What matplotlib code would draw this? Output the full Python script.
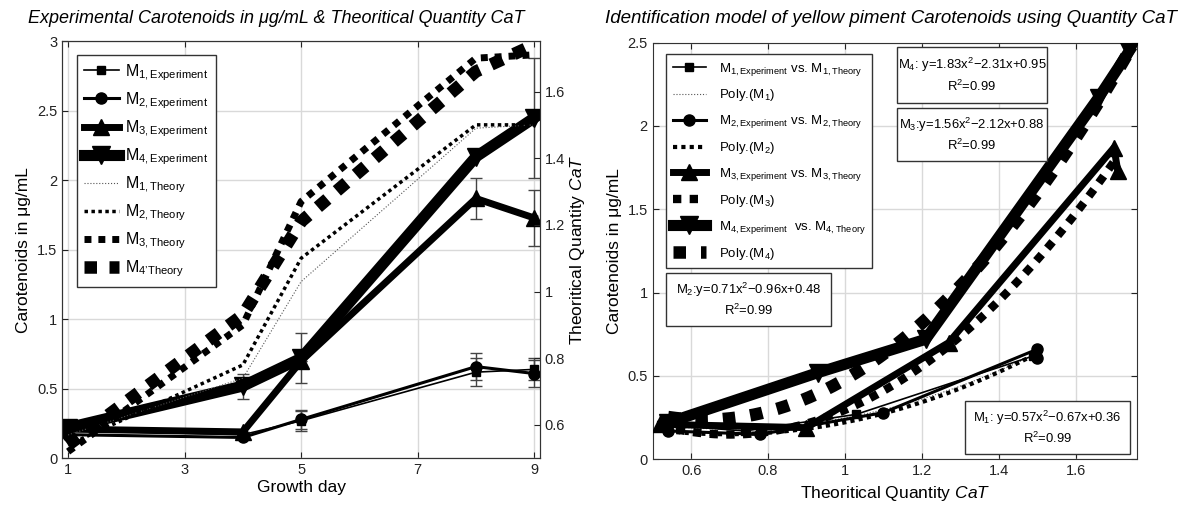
import numpy as np
import matplotlib
matplotlib.use('Agg')
import matplotlib.pyplot as plt
from matplotlib.patches import Rectangle

plt.rcParams['font.family'] = ['Liberation Sans', 'DejaVu Sans']
plt.rcParams['mathtext.fontset'] = 'custom'
plt.rcParams['mathtext.rm'] = 'Liberation Sans'
plt.rcParams['mathtext.it'] = 'Liberation Sans:italic'
plt.rcParams['mathtext.bf'] = 'Liberation Sans:bold'

# growth days
days = [1, 4, 5, 8, 9]

# experimental carotenoids (ug/mL)
m1_exp = [0.20, 0.17, 0.27, 0.62, 0.64]
m2_exp = [0.17, 0.15, 0.28, 0.66, 0.61]
m3_exp = [0.21, 0.19, 0.70, 1.87, 1.73]
m4_exp = [0.22, 0.52, 0.72, 2.17, 2.45]

# error bars
m1_err = [0, 0, 0.07, 0.10, 0.08]
m2_err = [0, 0, 0.07, 0.10, 0.10]
m3_err = [0, 0, 0, 0.15, 0.20]
m4_err = [0, 0.09, 0.18, 0, 0.43]

# theoritical quantity CaT
m1_cat = [0.57, 0.74, 1.03, 1.49, 1.50]
m2_cat = [0.54, 0.78, 1.10, 1.50, 1.50]
m3_cat = [0.52, 0.90, 1.27, 1.70, 1.71]
m4_cat = [0.54, 0.93, 1.21, 1.66, 1.74]

# fitted equations shown on the right chart
eq_m4 = 'M$_4$: y=1.83x$^2$\u22122.31x+0.95\nR$^2$=0.99'
eq_m3 = 'M$_3$:y=1.56x$^2$\u22122.12x+0.88\nR$^2$=0.99'
eq_m2 = 'M$_2$:y=0.71x$^2$\u22120.96x+0.48\nR$^2$=0.99'
eq_m1 = 'M$_1$: y=0.57x$^2$\u22120.67x+0.36\nR$^2$=0.99'

exp_labels = [r'M$_{1,\mathrm{Experiment}}$', r'M$_{2,\mathrm{Experiment}}$',
              r'M$_{3,\mathrm{Experiment}}$', r'M$_{4,\mathrm{Experiment}}$']
th_labels = [r'M$_{1,\mathrm{Theory}}$', r'M$_{2,\mathrm{Theory}}$',
             r'M$_{3,\mathrm{Theory}}$', 'M$_{4\\mathrm{\u2019Theory}}$']
vs_labels = [r'M$_{1,\mathrm{Experiment}}$ vs. M$_{1,\mathrm{Theory}}$',
             r'M$_{2,\mathrm{Experiment}}$ vs. M$_{2,\mathrm{Theory}}$',
             r'M$_{3,\mathrm{Experiment}}$ vs. M$_{3,\mathrm{Theory}}$',
             r'M$_{4,\mathrm{Experiment}}$  vs. M$_{4,\mathrm{Theory}}$']
poly_labels = ['Poly.(M$_1$)', 'Poly.(M$_2$)', 'Poly.(M$_3$)', 'Poly.(M$_4$)']

exps = [m1_exp, m2_exp, m3_exp, m4_exp]
errs = [m1_err, m2_err, m3_err, m4_err]
cats = [m1_cat, m2_cat, m3_cat, m4_cat]

# styles
exp_style = [dict(lw=1.2, marker='s', ms=6),
             dict(lw=2.2, marker='o', ms=8),
             dict(lw=5, marker='^', ms=12),
             dict(lw=8, marker='v', ms=13)]
th_style = [dict(lw=0.8, ls=':', color='#555555'),
            dict(lw=2.5, ls=(0, (1, 1)), color='black'),
            dict(lw=5, ls=(0, (1, 1)), color='black'),
            dict(lw=9, ls=(0, (1, 1)), color='black')]
poly_style = [dict(lw=0.8, ls=':', color='#555555'),
              dict(lw=3, ls=(0, (1, 1)), color='black'),
              dict(lw=6, ls=(0, (1, 1)), color='black'),
              dict(lw=9, ls=(0, (1, 1.2)), color='black')]

spine_c = '#333333'
grid_c = '#d9d9d9'

fig = plt.figure(figsize=(11.86, 5.09), dpi=100)
ax1 = fig.add_axes([0.0525, 0.0996, 0.4028, 0.8189])
ax2 = ax1.twinx()
ax3 = fig.add_axes([0.5503, 0.0976, 0.4084, 0.8187])

# ---- left chart
for i in range(4):
    ax1.errorbar(days, exps[i], yerr=errs[i], fmt='none', ecolor='#444444',
                 elinewidth=1, capsize=4, zorder=3)
    ax1.plot(days, exps[i], color='black', label=exp_labels[i], zorder=4, **exp_style[i])
for i in range(4):
    ax2.plot(days, cats[i], label=th_labels[i], **th_style[i])

ax1.set_xlim(0.9, 9.1)
ax1.set_ylim(0, 3)
ax2.set_ylim(0.5, 1.75)
ax1.set_xticks([1, 3, 5, 7, 9])
ax1.set_yticks([0, 0.5, 1, 1.5, 2, 2.5, 3])
ax1.set_yticklabels(['0', '0.5', '1', '1.5', '2', '2.5', '3'])
ax2.set_yticks([0.6, 0.8, 1.0, 1.2, 1.4, 1.6])
ax2.set_yticklabels(['0.6', '0.8', '1', '1.2', '1.4', '1.6'])
ax1.grid(True, color=grid_c, lw=1)
ax1.set_axisbelow(True)
ax1.tick_params(direction='in', top=True, right=False, labelsize=10.5, length=4, colors='#222222')
ax2.tick_params(direction='in', labelsize=10.5, length=4, colors='#222222')
ax1.set_xlabel('Growth day', fontsize=12.5, labelpad=2)
ax1.set_ylabel('Carotenoids in \u03bcg/mL', fontsize=12.5, labelpad=4)
ax2.set_ylabel(r'Theoritical Quantity $\mathit{CaT}$', fontsize=12.5, labelpad=2)
for ax in (ax1, ax2):
    for s in ax.spines.values():
        s.set_color(spine_c)

h1, l1 = ax1.get_legend_handles_labels()
h2, l2 = ax2.get_legend_handles_labels()
leg1 = ax2.legend(h1 + h2, l1 + l2, loc='upper left', bbox_to_anchor=(0.03, 0.968),
                  fontsize=11.5, labelspacing=0.47, handlelength=2.2, handletextpad=0.4,
                  borderpad=0.45, borderaxespad=0,
                  fancybox=False, framealpha=1, edgecolor=spine_c)
leg1.get_frame().set_linewidth(1)

# ---- right chart
for i in range(4):
    ax3.plot(cats[i], exps[i], color='black', zorder=4, label=vs_labels[i], **exp_style[i])
    coef = np.polyfit(cats[i], exps[i], 2)
    xs = np.linspace(min(cats[i]), max(cats[i]), 60)
    ax3.plot(xs, np.polyval(coef, xs), zorder=3, label=poly_labels[i], **poly_style[i])

ax3.set_xlim(0.5, 1.76)
ax3.set_ylim(0, 2.5)
ax3.set_xticks([0.6, 0.8, 1.0, 1.2, 1.4, 1.6])
ax3.set_xticklabels(['0.6', '0.8', '1', '1.2', '1.4', '1.6'])
ax3.set_yticks([0, 0.5, 1, 1.5, 2, 2.5])
ax3.set_yticklabels(['0', '0.5', '1', '1.5', '2', '2.5'])
ax3.grid(True, color=grid_c, lw=1)
ax3.set_axisbelow(True)
ax3.tick_params(direction='in', top=True, right=True, labelsize=10.5, length=4, colors='#222222')
ax3.set_xlabel(r'Theoritical Quantity $\mathit{CaT}$', fontsize=12.5, labelpad=4)
ax3.set_ylabel('Carotenoids in \u03bcg/mL', fontsize=12.5, labelpad=4)
for s in ax3.spines.values():
    s.set_color(spine_c)

leg3 = ax3.legend(loc='upper left', bbox_to_anchor=(0.0275, 0.9727),
                  fontsize=9.5, labelspacing=0.75, handlelength=2.5, handletextpad=1.0,
                  borderpad=0.5, borderaxespad=0,
                  fancybox=False, framealpha=1, edgecolor=spine_c)
leg3.get_frame().set_linewidth(1)


def eq_box(ax, x0, y0, x1, y1, text):
    ax.add_patch(Rectangle((x0, y0), x1 - x0, y1 - y0, transform=ax.transAxes,
                           facecolor='white', edgecolor=spine_c, lw=1, zorder=6))
    ax.text((x0 + x1) / 2, (y0 + y1) / 2, text, transform=ax.transAxes,
            ha='center', va='center', fontsize=9.4, linespacing=1.35, zorder=7)


eq_box(ax3, 0.504, 0.855, 0.814, 0.989, eq_m4)
eq_box(ax3, 0.504, 0.716, 0.814, 0.843, eq_m3)
eq_box(ax3, 0.0275, 0.32, 0.368, 0.447, eq_m2)
eq_box(ax3, 0.645, 0.013, 0.986, 0.141, eq_m1)

fig.text(0.233, 0.963, 'Experimental Carotenoids in \u03bcg/mL & Theoritical Quantity CaT',
         ha='center', va='center', fontsize=13, style='italic')
fig.text(0.751, 0.963, 'Identification model of yellow piment Carotenoids using Quantity CaT',
         ha='center', va='center', fontsize=13.5, style='italic')

fig.savefig('out.png', dpi=100)
